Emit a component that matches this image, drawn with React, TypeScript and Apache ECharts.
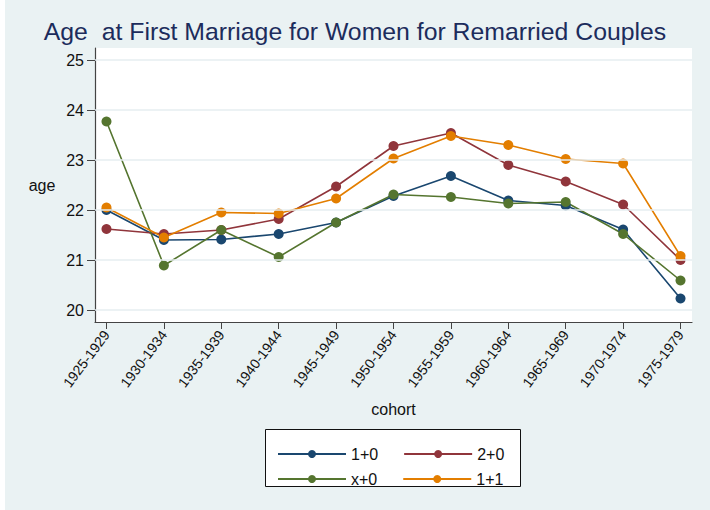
import React, { useEffect, useRef } from "react";
import * as echarts from "echarts";

const cohorts = [
  "1925-1929", "1930-1934", "1935-1939", "1940-1944", "1945-1949", "1950-1954",
  "1955-1959", "1960-1964", "1965-1969", "1970-1974", "1975-1979",
];
const yTicks = [20, 21, 22, 23, 24, 25];
const s10 = [22.0, 21.4, 21.41, 21.52, 21.75, 22.28, 22.68, 22.19, 22.09, 21.61, 20.23];
const s20 = [21.62, 21.52, 21.6, 21.82, 22.47, 23.28, 23.54, 22.9, 22.57, 22.11, 21.0];
const sx0 = [23.77, 20.89, 21.6, 21.06, 21.75, 22.31, 22.26, 22.13, 22.16, 21.52, 20.59];
const s11 = [22.05, 21.45, 21.95, 21.93, 22.23, 23.03, 23.48, 23.3, 23.02, 22.93, 21.08];
const seriesNames = ["1+0", "2+0", "x+0", "1+1"];
const seriesColors = ["#1a476f", "#90353b", "#55752f", "#e37e00"];

const FONT = "Liberation Sans, Arial, sans-serif";

export default function App() {
  const ref = useRef<HTMLDivElement>(null);
  useEffect(() => {
    if (!ref.current) return;
    const chart = echarts.init(ref.current, undefined, { renderer: "svg" });
    const values = [s10, s20, sx0, s11];
    const xIdx = cohorts.map((_, i) => i);
    const series: any[] = values.map((vals, k) => ({
      name: seriesNames[k],
      type: "line",
      data: vals.map((v, i) => [i, v]),
      symbol: "circle",
      symbolSize: 10,
      z: 3,
      lineStyle: { width: 1.6, color: seriesColors[k] },
      itemStyle: { color: seriesColors[k] },
    }));
    series.unshift({
      name: "grid",
      type: "line",
      data: [],
      z: 1,
      silent: true,
      markLine: {
        silent: true,
        symbol: "none",
        label: { show: false },
        lineStyle: { color: "#e6eef0", width: 1.5, type: "solid" },
        data: yTicks.map((v) => ({ yAxis: v })),
      },
    });
    const legendCommon = {
      orient: "horizontal",
      itemWidth: 68,
      itemHeight: 10,
      itemGap: 25,
      textStyle: { fontFamily: FONT, fontSize: 16, color: "#111" },
      selectedMode: false,
    };
    chart.setOption({
      animation: false,
      backgroundColor: "#ffffff",
      textStyle: { fontFamily: FONT },
      graphic: [
        {
          type: "rect",
          shape: { x: 5, y: 0, width: 705, height: 510 },
          style: { fill: "#eaf2f3" },
          z: -10,
          silent: true,
        },
        {
          type: "rect",
          shape: { x: 265.5, y: 429.5, width: 255, height: 57 },
          style: { fill: "#ffffff", stroke: "#111", lineWidth: 1 },
          z: -5,
          silent: true,
        },
        {
          type: "text",
          x: 42,
          y: 185,
          style: {
            text: "age",
            fontFamily: FONT,
            fontSize: 16,
            fill: "#111",
            align: "center",
            verticalAlign: "middle",
          },
        },
      ],
      title: {
        text: "Age  at First Marriage for Women for Remarried Couples",
        left: "center",
        top: 14,
        textStyle: { fontFamily: FONT, fontSize: 24.8, fontWeight: "normal", color: "#1c2c5c" },
      },
      legend: [
        { ...legendCommon, data: ["1+0", "2+0"], left: 272, top: 441 },
        { ...legendCommon, data: ["x+0", "1+1"], left: 272, top: 466 },
      ],
      grid: {
        left: 95,
        right: 18,
        top: 48,
        bottom: 188,
        show: true,
        backgroundColor: "#ffffff",
        borderWidth: 0,
      },
      xAxis: {
        type: "value",
        min: -0.2,
        max: 10.2,
        name: "cohort",
        nameLocation: "middle",
        nameGap: 79,
        nameTextStyle: { fontFamily: FONT, fontSize: 16, color: "#111" },
        axisLine: { show: true, onZero: false, lineStyle: { color: "#444", width: 1.2 } },
        axisTick: { show: true, length: 7, customValues: xIdx, lineStyle: { color: "#444" } },
        axisLabel: {
          customValues: xIdx,
          rotate: 53,
          margin: 10,
          fontFamily: FONT,
          fontSize: 14,
          color: "#111",
          formatter: (v: number) => cohorts[Math.round(v)] ?? "",
        },
        splitLine: { show: false },
      },
      yAxis: {
        type: "value",
        min: 19.76,
        max: 25.24,
        axisLine: { show: true, onZero: false, lineStyle: { color: "#444", width: 1.2 } },
        axisTick: { show: true, length: 8, customValues: yTicks, lineStyle: { color: "#444" } },
        axisLabel: {
          customValues: yTicks,
          margin: 11,
          fontFamily: FONT,
          fontSize: 16,
          color: "#111",
        },
        splitLine: { show: false },
      },
      series,
    });
    return () => chart.dispose();
  }, []);
  return (
    <div
      ref={ref}
      style={{ position: "fixed", left: 0, top: 0, width: 710, height: 510 }}
    />
  );
}
